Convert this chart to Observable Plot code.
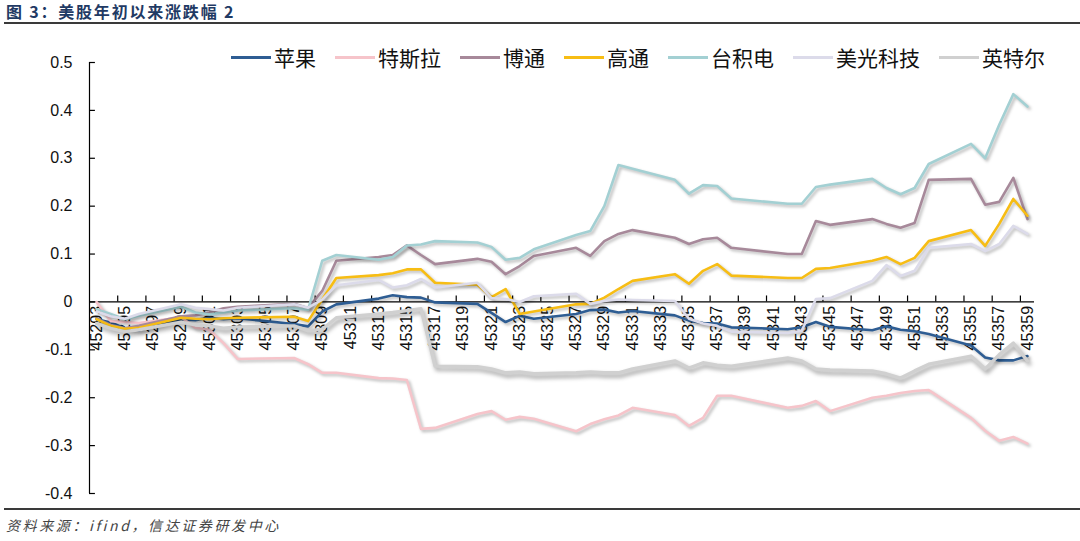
<!DOCTYPE html>
<html><head><meta charset="utf-8">
<script src="https://cdn.jsdelivr.net/npm/d3@7"></script>
<script src="https://cdn.jsdelivr.net/npm/@observablehq/plot@0.6"></script>
<style>
body{margin:0;background:#fff;}
#wrap{position:relative;width:1080px;height:541px;overflow:hidden;background:#fff;}
#title{position:absolute;left:6px;top:0px;font:bold 16px "Noto Sans CJK SC",sans-serif;color:#1f3a64;letter-spacing:1.8px;line-height:22px;}
#topline{position:absolute;left:4px;right:0;top:22px;height:2px;background:#3a3a3a;}
#botline{position:absolute;left:4px;right:0;top:508px;height:2px;background:#3a3a3a;}
#source{position:absolute;left:6px;top:514px;font:italic 14px "Noto Sans CJK SC",sans-serif;color:#444;letter-spacing:2.6px;line-height:22px;}
#chart{position:absolute;left:0;top:0;}
#legend{position:absolute;top:44px;left:231px;display:flex;align-items:center;font:21px "Noto Sans CJK SC",sans-serif;color:#111;line-height:26px;}
.item{display:flex;align-items:center;margin-right:19px;}
.swatch{width:40px;height:3px;margin-right:3px;}
.series{filter:drop-shadow(2px 2.5px 1.5px rgba(0,0,0,0.28));}
.series-heavy{filter:drop-shadow(2px 3px 2px rgba(0,0,0,0.38));}
</style></head>
<body>
<div id="wrap">
  <div id="title">图 3：美股年初以来涨跌幅 2</div>
  <div id="topline"></div>
  <div id="chart"></div>
  <div id="legend"></div>
  <div id="botline"></div>
  <div id="source">资料来源：ifind，信达证券研发中心</div>
</div>
<script>
// Trading days (Excel date serials)
const dates = [45293,45294,45295,45296,45299,45300,45301,45302,45303,45307,45308,45309,45310,45313,45314,45315,45316,45317,45320,45321,45322,45323,45324,45327,45328,45329,45330,45331,45334,45335,45336,45337,45338,45342,45343,45344,45345,45348,45349,45350,45351,45352,45355,45356,45357,45358,45359];

const seriesNames = ["苹果","特斯拉","博通","高通","台积电","美光科技","英特尔"];
const seriesColors = ["#2e5d93","#f6c4ca","#a7899a","#f7bd14","#a3d0d3","#dcdbea","#d0d0d0"];

const apple = [-0.036,-0.043,-0.055,-0.059,-0.036,-0.038,-0.033,-0.036,-0.034,-0.046,-0.051,-0.020,-0.005,0.007,0.014,0.010,0.009,-0.001,-0.004,-0.023,-0.042,-0.029,-0.035,-0.025,-0.017,-0.016,-0.022,-0.019,-0.028,-0.039,-0.044,-0.045,-0.053,-0.057,-0.053,-0.042,-0.052,-0.059,-0.051,-0.058,-0.061,-0.067,-0.091,-0.116,-0.122,-0.122,-0.113];
const tesla = [0.000,-0.040,-0.042,-0.044,-0.032,-0.054,-0.058,-0.086,-0.119,-0.117,-0.130,-0.148,-0.148,-0.159,-0.160,-0.163,-0.265,-0.263,-0.234,-0.228,-0.246,-0.240,-0.244,-0.270,-0.255,-0.245,-0.237,-0.221,-0.236,-0.259,-0.242,-0.196,-0.196,-0.221,-0.217,-0.207,-0.228,-0.200,-0.196,-0.190,-0.186,-0.184,-0.242,-0.269,-0.290,-0.282,-0.296];
const broadcom = [-0.035,-0.048,-0.055,-0.050,-0.030,-0.028,-0.022,-0.013,-0.010,-0.004,-0.013,0.023,0.086,0.094,0.098,0.118,0.098,0.079,0.090,0.084,0.058,0.075,0.096,0.113,0.096,0.127,0.142,0.150,0.134,0.121,0.131,0.134,0.113,0.100,0.100,0.169,0.161,0.173,0.163,0.155,0.165,0.255,0.257,0.203,0.209,0.259,0.173];
const qualcomm = [-0.036,-0.050,-0.056,-0.054,-0.033,-0.035,-0.036,-0.034,-0.033,-0.031,-0.040,0.005,0.050,0.056,0.060,0.068,0.068,0.040,0.036,0.010,0.027,-0.025,-0.020,-0.005,-0.004,0.009,0.027,0.044,0.058,0.038,0.065,0.079,0.055,0.050,0.050,0.069,0.071,0.086,0.094,0.079,0.092,0.127,0.150,0.117,0.163,0.215,0.180];
const tsmc = [-0.015,-0.025,-0.036,-0.029,-0.010,-0.022,-0.026,-0.022,-0.018,-0.013,-0.016,0.086,0.098,0.088,0.094,0.118,0.120,0.127,0.124,0.115,0.088,0.092,0.110,0.140,0.148,0.200,0.286,0.278,0.255,0.226,0.244,0.242,0.216,0.205,0.205,0.240,0.245,0.257,0.238,0.225,0.238,0.288,0.330,0.300,0.370,0.434,0.408];
const micron = [-0.020,-0.030,-0.035,-0.025,-0.005,-0.012,-0.015,-0.018,-0.012,-0.005,-0.012,0.005,0.035,0.046,0.030,0.035,0.048,0.030,0.040,0.008,0.006,0.000,0.012,0.017,-0.004,0.002,0.005,0.004,0.002,-0.035,-0.045,-0.050,-0.062,-0.065,-0.060,0.006,0.008,0.044,0.077,0.054,0.065,0.113,0.121,0.106,0.121,0.159,0.142];
const intel = [-0.045,-0.055,-0.062,-0.058,-0.042,-0.048,-0.050,-0.055,-0.052,-0.050,-0.060,-0.057,-0.033,-0.025,-0.022,-0.018,-0.014,-0.134,-0.135,-0.140,-0.148,-0.146,-0.150,-0.148,-0.146,-0.148,-0.148,-0.140,-0.123,-0.138,-0.127,-0.132,-0.134,-0.117,-0.123,-0.140,-0.142,-0.144,-0.150,-0.159,-0.144,-0.130,-0.113,-0.140,-0.110,-0.086,-0.123];

const seriesValues = [apple, tesla, broadcom, qualcomm, tsmc, micron, intel];

// Axis ticks / labels
const yTicks = [0.5,0.4,0.3,0.2,0.1,0,-0.1,-0.2,-0.3,-0.4];
const xLabels = d3.range(45293, 45360, 2);
const xTickMarks = d3.range(45294.5, 45359, 2);
const xDomain = [45292.5, 45359.5];
const yDomain = [-0.4, 0.5];

const fmtY = d => d === 0 ? "0" : d.toFixed(1);

const lineMarks = seriesNames.map((name, k) =>
  Plot.line(dates.map((d, i) => ({date: d, value: seriesValues[k][i], name})), {
    x: "date", y: "value", stroke: seriesColors[k],
    strokeWidth: k === 6 ? 3.4 : 2.6, strokeLinejoin: "round", strokeLinecap: "round",
    className: k === 6 ? "series-heavy" : "series"
  })
);

const chart = Plot.plot({
  width: 1080, height: 541,
  marginLeft: 89, marginRight: 46, marginTop: 62, marginBottom: 48,
  x: {domain: xDomain, axis: null},
  y: {domain: yDomain, axis: null},
  style: {fontFamily: "'Liberation Sans', Arial, sans-serif", color: "#000", background: "transparent"},
  marks: [
    Plot.text(xLabels, {x: d => d, y: 0, text: d => String(d), rotate: -90, textAnchor: "end", dy: 4, fontSize: 16, fill: "#111"}),
    Plot.text(yTicks, {x: xDomain[0], y: d => d, text: fmtY, textAnchor: "end", dx: -17, fontSize: 16, fill: "#111"}),
    Plot.ruleX([xDomain[0]], {y1: yDomain[0], y2: yDomain[1], stroke: "#000", strokeWidth: 1.2}),
    Plot.ruleY(yTicks, {x1: xDomain[0], x2: xDomain[0] + 0.42, stroke: "#000", strokeWidth: 1.2}),
    Plot.ruleY([0], {x1: xDomain[0], x2: xDomain[1], stroke: "#000", strokeWidth: 1.2}),
    Plot.ruleX(xTickMarks, {y1: 0, y2: 0.0125, stroke: "#000", strokeWidth: 1.2}),
    ...lineMarks
  ]
});
document.getElementById("chart").appendChild(chart);

const legend = document.getElementById("legend");
seriesNames.forEach((name, k) => {
  const it = document.createElement("div"); it.className = "item";
  const sw = document.createElement("div"); sw.className = "swatch"; sw.style.background = seriesColors[k];
  const tx = document.createElement("span"); tx.textContent = name;
  it.appendChild(sw); it.appendChild(tx); legend.appendChild(it);
});
</script>
</body></html>
